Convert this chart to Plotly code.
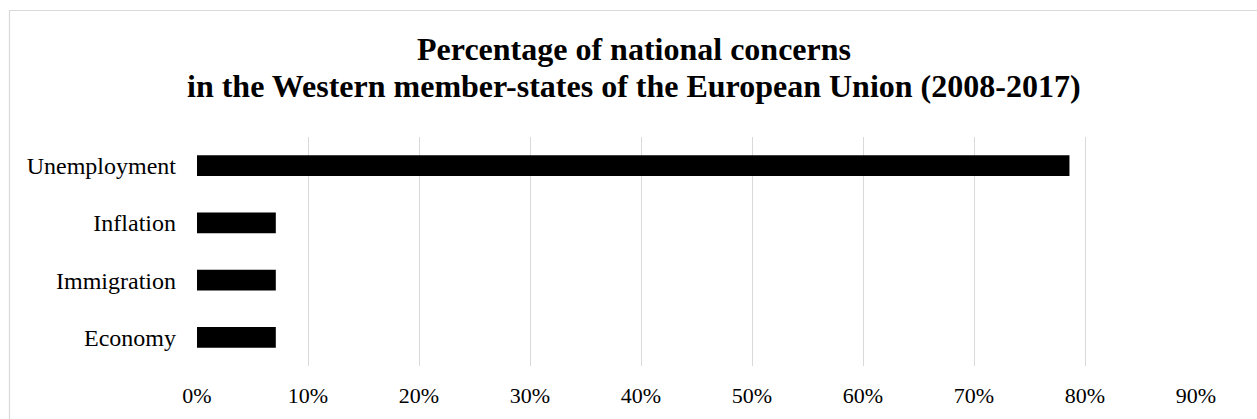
import plotly.graph_objects as go

categories = ["Unemployment", "Inflation", "Immigration", "Economy"]
values = [0.786, 0.071, 0.071, 0.071]
tick_vals = [0, 0.1, 0.2, 0.3, 0.4, 0.5, 0.6, 0.7, 0.8, 0.9]
tick_text = ["0%", "10%", "20%", "30%", "40%", "50%", "60%", "70%", "80%", "90%"]
title_lines = ["Percentage of national concerns",
               "in the Western member-states of the European Union (2008-2017)"]

W, H = 1257, 419
ml, mr, mt, mb = 197, 61, 137, 53
pw, ph = W - ml - mr, H - mt - mb
FONT = "Liberation Serif, Times New Roman, serif"

fig = go.Figure(go.Bar(
    x=values, y=categories, orientation="h",
    marker=dict(color="black", line=dict(width=0)),
    hoverinfo="skip",
))

def px_to_paper_x(px):
    return (px - ml) / pw

def px_to_paper_y(py):
    return (H - mb - py) / ph

title_centers = [49, 86]
annotations = [
    dict(text="<b>%s</b>" % t, xref="paper", yref="paper",
         x=px_to_paper_x(634), y=px_to_paper_y(cy),
         xanchor="center", yanchor="middle", showarrow=False,
         font=dict(size=32, family=FONT, color="black"))
    for t, cy in zip(title_lines, title_centers)
]

fig.update_layout(
    width=W, height=H,
    margin=dict(l=ml, r=mr, t=mt, b=mb),
    paper_bgcolor="white", plot_bgcolor="white",
    bargap=0.64,
    showlegend=False,
    font=dict(family=FONT, color="black"),
    annotations=annotations,
    xaxis=dict(
        range=[0, 0.9], tickvals=tick_vals, ticktext=tick_text,
        showgrid=True, gridcolor="#d9d9d9", gridwidth=1.4,
        zeroline=False, showline=False, ticks="",
        tickfont=dict(size=22, color="black"),
        ticklabelstandoff=14,
        fixedrange=True,
    ),
    yaxis=dict(
        autorange="reversed", showgrid=False, zeroline=False, showline=False,
        ticks="", tickfont=dict(size=24, color="black"),
        ticklabelstandoff=20,
        fixedrange=True,
    ),
    shapes=[dict(
        type="rect", xref="paper", yref="paper",
        x0=px_to_paper_x(9.5), x1=px_to_paper_x(W + 10),
        y0=px_to_paper_y(H + 10), y1=px_to_paper_y(10.5),
        line=dict(color="#d9d9d9", width=1.2), fillcolor="rgba(0,0,0,0)",
        layer="below",
    )],
)

fig.write_html("out.html", config={"displayModeBar": False},
               post_script="document.body.style.margin='0';document.body.style.overflow='hidden';")
